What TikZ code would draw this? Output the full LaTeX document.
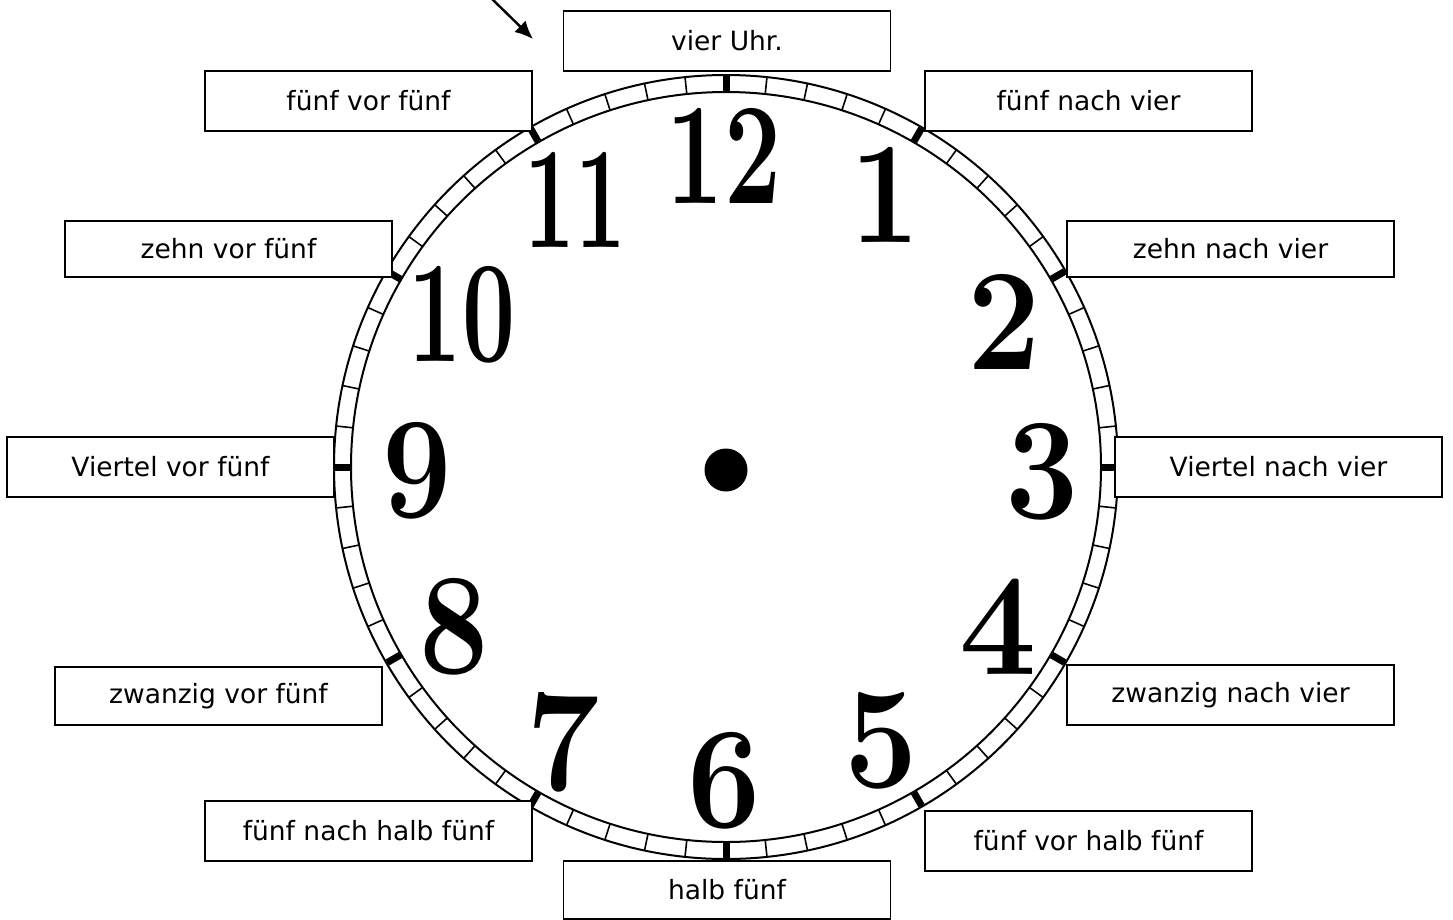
\documentclass[tikz,border=0pt]{standalone}
\usepackage{fontspec}
\newfontfamily\boxfont{DejaVu Sans}
\usetikzlibrary{arrows.meta}
\begin{document}
\begin{tikzpicture}[x=1pt,y=-1pt,
  lab/.style={draw, line width=1.8pt, fill=white, minimum width=327pt, minimum height=60pt, inner sep=0pt, font=\boxfont\fontsize{26.5}{26.5}\selectfont},
  num/.style={inner sep=0pt, font=\bfseries\fontsize{145}{145}\selectfont},
  ring/.style={line width=2pt},
  minor/.style={line width=1.6pt},
  major/.style={line width=7pt},
  pointer/.style={line width=2.4pt, -{Latex[length=18pt,width=16pt]}}
]
\useasboundingbox (0,0) rectangle (1453,919);
% clock face
\coordinate (c) at (726,467);
\draw[ring] (c) circle[radius=392];
\draw[ring] (c) circle[radius=375];
\foreach \i in {0,...,59} \draw[minor, shift={(c)}] (\i*6:375) -- (\i*6:392);
\foreach \i in {0,...,11} \draw[major, shift={(c)}] (\i*30:376) -- (\i*30:391);
\node[circle, fill, minimum size=43pt, inner sep=0pt] (hub) at (726,470) {};
% numerals
\node[num] (n12) at (724,156) {\scalebox{0.7}[1]{12}};
\node[num] (n11) at (575,200) {\scalebox{0.62}[1]{11}};
\node[num] (n1)  at (885,195) {\scalebox{0.85}[1]{1}};
\node[num] (n2)  at (1004,322) {\scalebox{0.9}[1]{2}};
\node[num] (n10) at (462,315) {\scalebox{0.65}[1]{10}};
\node[num] (n3)  at (1042,472) {\scalebox{0.9}[1]{3}};
\node[num] (n9)  at (417,471) {\scalebox{0.85}[1]{9}};
\node[num] (n4)  at (998,627) {\scalebox{0.95}[1]{4}};
\node[num] (n8)  at (454,627) {\scalebox{0.85}[1]{8}};
\node[num] (n5)  at (881,741) {\scalebox{0.9}[1]{5}};
\node[num] (n7)  at (563,742) {\scalebox{0.9}[1]{7}};
\node[num] (n6)  at (724,781) {\scalebox{0.9}[1]{6}};
% labels
\node[lab] (b12)  at (727,41)    {vier Uhr.};
\node[lab] (b11)  at (368.5,101) {fünf vor fünf};
\node[lab] (b1)   at (1088.5,101){fünf nach vier};
\node[lab, minimum height=56pt] (b10) at (228.5,249) {zehn vor fünf};
\node[lab, minimum height=56pt] (b2)  at (1230.5,249){zehn nach vier};
\node[lab] (b9)   at (170.5,467) {Viertel vor fünf};
\node[lab] (b3)   at (1278.5,467){Viertel nach vier};
\node[lab, minimum height=58pt] (b8) at (218.5,696) {zwanzig vor fünf};
\node[lab] (b4)   at (1230.5,695){zwanzig nach vier};
\node[lab] (b7)   at (368.5,831) {fünf nach halb fünf};
\node[lab] (b5)   at (1088.5,841){fünf vor halb fünf};
\node[lab, minimum height=58pt] (b6) at (727,890) {halb fünf};
% pointer arrow
\coordinate (arrowstart) at (491,-2);
\coordinate (arrowtip) at (533,39);
\draw[pointer] (arrowstart) -- (arrowtip);
\end{tikzpicture}
\end{document}
